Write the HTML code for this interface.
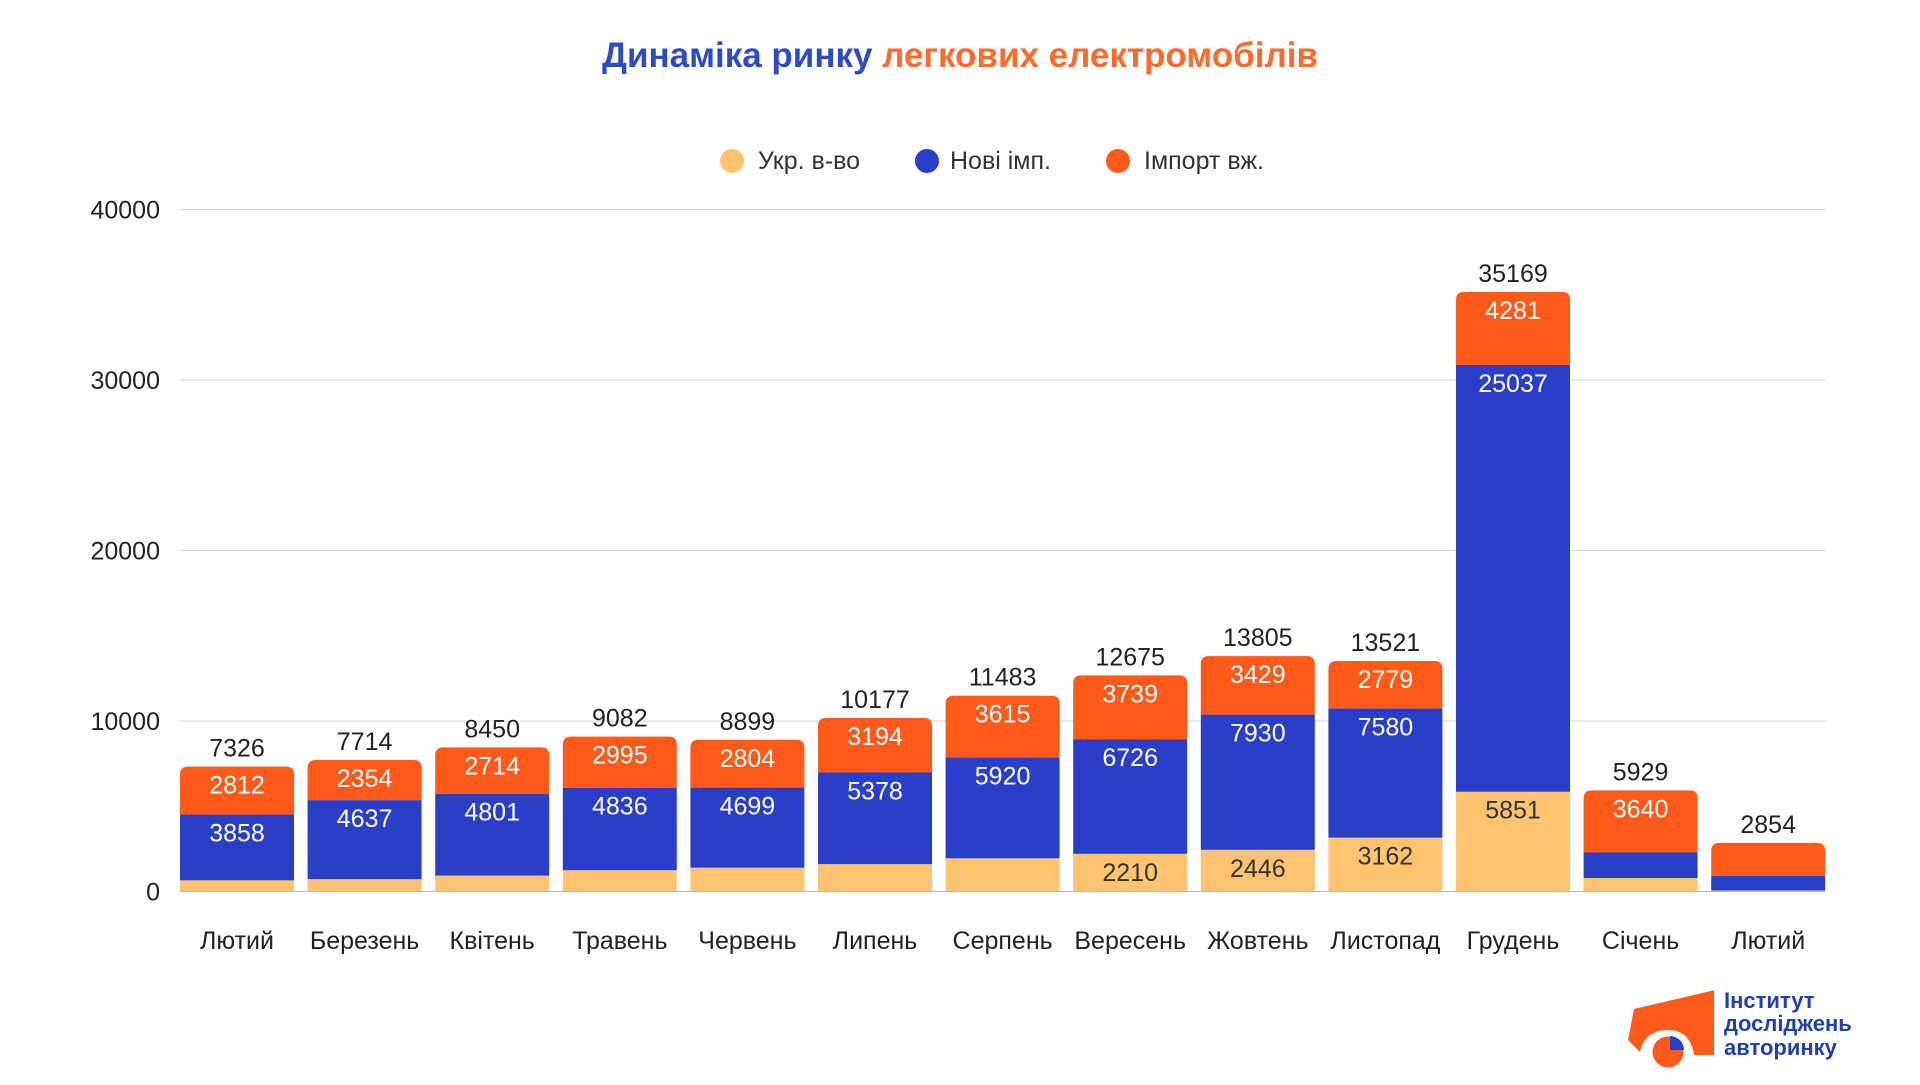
<!DOCTYPE html>
<html><head><meta charset="utf-8"><style>
body{margin:0;width:1920px;height:1080px;background:#fff;overflow:hidden;font-family:"Liberation Sans",sans-serif}
</style></head><body>
<svg id="c" width="1920" height="1080" xmlns="http://www.w3.org/2000/svg" font-family="Liberation Sans, sans-serif"></svg>
<script>
const d=[["Лютий",656,3858,2812,7326,0],["Березень",723,4637,2354,7714,0],["Квітень",935,4801,2714,8450,0],["Травень",1251,4836,2995,9082,0],["Червень",1396,4699,2804,8899,0],["Липень",1605,5378,3194,10177,0],["Серпень",1948,5920,3615,11483,0],["Вересень",2210,6726,3739,12675,1],["Жовтень",2446,7930,3429,13805,1],["Листопад",3162,7580,2779,13521,1],["Грудень",5851,25037,4281,35169,1],["Січень",790,1499,3640,5929,2],["Лютий",60,860,1934,2854,3]];
const B=891.5,K=170.5/10000,Y=v=>B-v*K;let s='';
s+=`<text x="960" y="67" text-anchor="middle" font-size="35" font-weight="bold"><tspan fill="#2E4BC6">Динаміка ринку </tspan><tspan fill="#FF6A2B">легкових електромобілів</tspan></text>`;
[[732,"#FDC36E","Укр. в-во",758],[927,"#2A3FC7","Нові імп.",950],[1118,"#FF5A1A","Імпорт вж.",1144]].forEach(l=>{s+=`<circle cx="${l[0]}" cy="161" r="12" fill="${l[1]}"/><text x="${l[3]}" y="169" font-size="25" fill="#333">${l[2]}</text>`});
for(let t=0;t<=40000;t+=10000){s+=`<line x1="180" x2="1825" y1="${Y(t)}" y2="${Y(t)}" stroke="#ddd" stroke-width="1.2"/><text x="160" y="${Y(t)+9}" text-anchor="end" font-size="25" fill="#222">${t}</text>`}
d.forEach((r,i)=>{const x=180+i*127.6,w=114,cx=x+w/2;
const y1=Y(r[1]),y2=Y(r[1]+r[2]),y3=Y(r[4]);
s+=`<rect x="${x}" y="${y1}" width="${w}" height="${B-y1}" fill="#FDC36E"/>`;
s+=`<rect x="${x}" y="${y2}" width="${w}" height="${y1-y2}" fill="#2A3FC7"/>`;
s+=`<path d="M${x} ${y2}V${y3+8}Q${x} ${y3} ${x+8} ${y3}H${x+w-8}Q${x+w} ${y3} ${x+w} ${y3+8}V${y2}Z" fill="#FF5A1A"/>`;
s+=`<text x="${cx}" y="${y3-10}" text-anchor="middle" font-size="25" fill="#222">${r[4]}</text>`;
if(r[5]<3)s+=`<text x="${cx}" y="${y3+27}" text-anchor="middle" font-size="25" fill="#fff">${r[3]}</text>`;
if(r[5]<2)s+=`<text x="${cx}" y="${y2+27}" text-anchor="middle" font-size="25" fill="#fff">${r[2]}</text>`;
if(r[5]==1)s+=`<text x="${cx}" y="${y1+27}" text-anchor="middle" font-size="25" fill="#333">${r[1]}</text>`;
s+=`<text x="${cx}" y="949" text-anchor="middle" font-size="25" fill="#222">${r[0]}</text>`;});
s+=`<line x1="180" x2="1825" y1="${B}" y2="${B}" stroke="#bbb"/>`;
s+=`<path d="M1634 1009L1715 990H1714V1055H1694Q1690 1030 1668 1030Q1645 1030 1640 1052L1628 1040Z" fill="#FF5A1A"/><circle cx="1668" cy="1052" r="17" fill="#FF5A1A" stroke="#fff" stroke-width="3"/><path d="M1670 1036A14 14 0 0 1 1684 1050H1670Z" fill="#2A3FC7"/>`;
s+=`<g font-size="22" font-weight="bold" fill="#1F3FB0"><text x="1724" y="1008">Інститут</text><text x="1724" y="1031">досліджень</text><text x="1724" y="1055">авторинку</text></g>`;
document.getElementById('c').innerHTML=s;
</script>
</body></html>
